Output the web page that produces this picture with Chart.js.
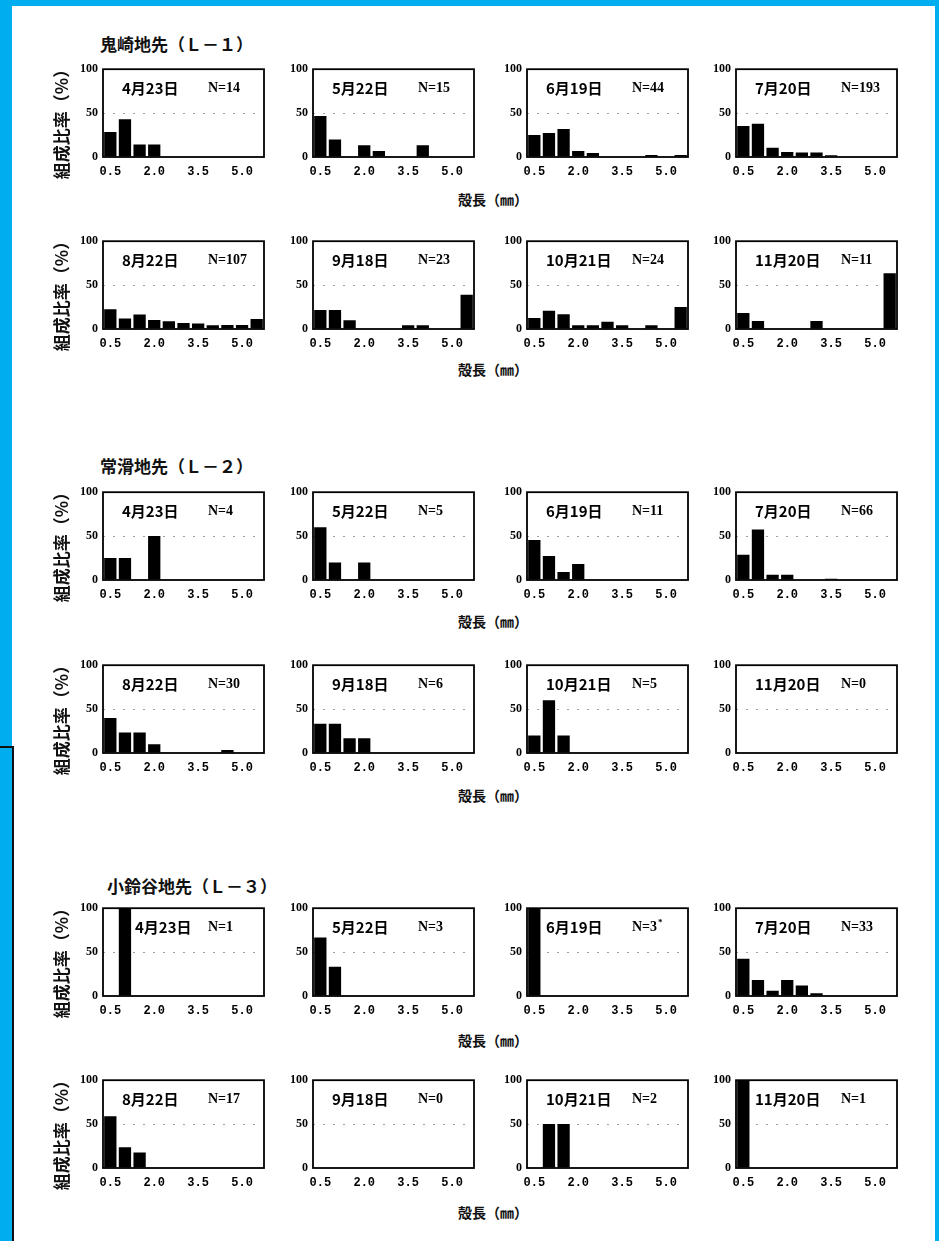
<!DOCTYPE html>
<html>
<head>
<meta charset="utf-8">
<script src="https://cdn.jsdelivr.net/npm/chart.js@4.4.0/dist/chart.umd.min.js"></script>
<style>
body { margin: 0; }
#page { position: relative; width: 939px; height: 1241px; background: #00aeef; overflow: hidden; }
#paper { position: absolute; left: 12px; top: 6px; width: 923px; height: 1235px; background: #fff; }
#edge { position: absolute; left: 0; top: 746px; width: 14px; height: 495px; border-top: 2px solid #111; border-right: 2px solid #111; box-sizing: border-box; }
.site { position: absolute; font: 700 17px 'Noto Sans CJK JP'; color: #111; white-space: nowrap; transform: translateY(-50%); }
.ylab { position: absolute; font: 700 17px 'Noto Sans CJK JP'; color: #111; white-space: nowrap; transform: translate(-50%, -50%) rotate(-90deg); }
.xlab { position: absolute; font: 700 14px 'Noto Sans CJK JP'; color: #111; white-space: nowrap; transform: translate(-50%, -50%); }
canvas { position: absolute; }
</style>
</head>
<body>
<div id="page">
  <div id="paper"></div>
  <div id="edge"></div>
</div>
<script>
// 殻長階級 (0.5mm きざみ、最後は 5.0mm 超)
const binLabels = ['0.5', '1.0', '1.5', '2.0', '2.5', '3.0', '3.5', '4.0', '4.5', '5.0', '5.5']
const tickLabels = ['0.5', '2.0', '3.5', '5.0']
const dates = ['4月23日', '5月22日', '6月19日', '7月20日', '8月22日', '9月18日', '10月21日', '11月20日']
const siteNames = ['鬼崎地先（Ｌ－１）', '常滑地先（Ｌ－２）', '小鈴谷地先（Ｌ－３）']

const nL1 = [14, 15, 44, 193, 107, 23, 24, 11]
const nL2 = [4, 5, 11, 66, 30, 6, 5, 0]
const nL3 = [1, 3, 3, 33, 17, 0, 2, 1]
const markL3 = ['', '', '*', '', '', '', '', '']

// 組成比率 (%)
const pctL1 = [
    [28.6, 42.9, 14.3, 14.3, 0, 0, 0, 0, 0, 0, 0],
    [46.7, 20.0, 0, 13.3, 6.7, 0, 0, 13.3, 0, 0, 0],
    [25.0, 27.3, 31.8, 6.8, 4.5, 0, 0, 0, 2.3, 0, 2.3],
    [35.2, 37.8, 10.4, 5.7, 5.2, 5.2, 2.0, 0, 0, 0, 0],
    [22.6, 12.0, 16.6, 10.2, 8.7, 6.8, 6.4, 4.2, 4.5, 4.5, 11.3],
    [21.7, 21.7, 10.0, 0, 0, 0, 4.3, 4.3, 0, 0, 39.1],
    [12.5, 20.8, 16.7, 4.2, 4.2, 8.3, 4.2, 0, 4.2, 0, 25.0],
    [18.2, 9.1, 0, 0, 0, 9.1, 0, 0, 0, 0, 63.6]
]
const pctL2 = [
    [25.0, 25.0, 0, 50.0, 0, 0, 0, 0, 0, 0, 0],
    [60.0, 20.0, 0, 20.0, 0, 0, 0, 0, 0, 0, 0],
    [45.5, 27.3, 9.1, 18.2, 0, 0, 0, 0, 0, 0, 0],
    [28.8, 57.6, 6.1, 6.1, 0, 0, 1.5, 0, 0, 0, 0],
    [40.0, 23.3, 23.3, 10.0, 0, 0, 0, 0, 3.3, 0, 0],
    [33.3, 33.3, 16.7, 16.7, 0, 0, 0, 0, 0, 0, 0],
    [20.0, 60.0, 20.0, 0, 0, 0, 0, 0, 0, 0, 0],
    [0, 0, 0, 0, 0, 0, 0, 0, 0, 0, 0]
]
const pctL3 = [
    [0, 100, 0, 0, 0, 0, 0, 0, 0, 0, 0],
    [66.7, 33.3, 0, 0, 0, 0, 0, 0, 0, 0, 0],
    [100, 0, 0, 0, 0, 0, 0, 0, 0, 0, 0],
    [42.4, 18.2, 6.1, 18.2, 12.1, 3.0, 0, 0, 0, 0, 0],
    [58.8, 23.5, 17.6, 0, 0, 0, 0, 0, 0, 0, 0],
    [0, 0, 0, 0, 0, 0, 0, 0, 0, 0, 0],
    [0, 50.0, 50.0, 0, 0, 0, 0, 0, 0, 0, 0],
    [100, 0, 0, 0, 0, 0, 0, 0, 0, 0, 0]
]

const sitePct = [pctL1, pctL2, pctL3]
const siteN = [nL1, nL2, nL3]

// レイアウト
const colLeft = [103, 313, 527, 736]
const rowTop = [68, 240, 491, 664, 907, 1079]
const xlabY = [199, 369, 621, 795, 1040, 1212]
const siteY = [43, 465, 885]
const siteX = [100, 100, 107]
const BOX_W = 161, BOX_H = 89
// PAD_T: Chart.js が「100」ラベルのために取る上の余白 (実測)
const PAD_L = 34, PAD_T = 11, PAD_R = 6, PAD_B = 24

const page = document.getElementById('page')

function addText(cls, text, x, y) {
    const d = document.createElement('div')
    d.className = cls
    d.textContent = text
    d.style.left = x + 'px'
    d.style.top = y + 'px'
    page.appendChild(d)
}

const panelText = {
    id: 'panelText',
    afterDraw(chart, args, opts) {
        const ctx = chart.ctx
        const a = chart.chartArea
        ctx.save()
        ctx.strokeStyle = '#000'
        ctx.lineWidth = 1.8
        ctx.strokeRect(a.left, a.top, a.right - a.left, a.bottom - a.top)
        ctx.fillStyle = '#000'
        ctx.textBaseline = 'middle'
        ctx.font = "700 15px 'Noto Sans CJK JP'"
        ctx.fillText(opts.date, a.left + opts.dx, a.top + 19)
        ctx.font = "700 14px 'Liberation Serif'"
        const nText = 'N=' + opts.n
        ctx.fillText(nText, a.left + 105, a.top + 19)
        if (opts.mark) {
            const w = ctx.measureText(nText).width
            ctx.font = "700 9px 'Liberation Serif'"
            ctx.fillText(opts.mark, a.left + 106 + w, a.top + 14)
        }
        ctx.restore()
    }
}

function makePanel(site, k) {
    const row = site * 2 + Math.floor(k / 4)
    const col = k % 4
    const cv = document.createElement('canvas')
    cv.width = PAD_L + BOX_W + PAD_R
    cv.height = PAD_T + BOX_H + PAD_B
    cv.style.left = (colLeft[col] - PAD_L) + 'px'
    cv.style.top = (rowTop[row] - PAD_T) + 'px'
    page.appendChild(cv)

    // L-3 4月23日 は棒を避けて日付が右へずれている
    const dx = (site === 2 && k === 0) ? 32 : 19

    new Chart(cv.getContext('2d'), {
        type: 'bar',
        data: {
            labels: binLabels,
            datasets: [{
                data: sitePct[site][k],
                backgroundColor: '#000',
                borderWidth: 0,
                barPercentage: 0.84,
                categoryPercentage: 1.0
            }]
        },
        options: {
            responsive: false,
            animation: false,
            layout: { padding: { top: 0, right: PAD_R, left: 0, bottom: 0 } },
            plugins: {
                legend: { display: false },
                tooltip: { enabled: false },
                panelText: { date: dates[k], n: siteN[site][k], mark: site === 2 ? markL3[k] : '', dx: dx }
            },
            scales: {
                x: {
                    afterFit(s) { s.height = PAD_B },
                    grid: { display: false },
                    border: { display: false },
                    ticks: {
                        autoSkip: false,
                        maxRotation: 0,
                        padding: 0,
                        color: '#000',
                        font: { family: 'Liberation Mono', weight: 'bold', size: 12 },
                        callback: function (v, i) {
                            const l = binLabels[i]
                            return tickLabels.includes(l) ? l : ''
                        }
                    }
                },
                y: {
                    min: 0,
                    max: 100,
                    afterFit(s) { s.width = PAD_L },
                    grid: {
                        drawTicks: false,
                        lineWidth: 1,
                        color: c => c.tick && c.tick.value === 50 ? '#a0a0a0' : 'rgba(0,0,0,0)'
                    },
                    border: { display: false, dash: [2, 8] },
                    ticks: {
                        stepSize: 50,
                        padding: 5,
                        color: '#000',
                        font: { family: 'Liberation Serif', weight: 'bold', size: 12 }
                    }
                }
            }
        },
        plugins: [panelText]
    })
}

for (let s = 0; s < 3; s++) {
    addText('site', siteNames[s], siteX[s], siteY[s])
    for (let k = 0; k < 8; k++) makePanel(s, k)
    for (let r = 0; r < 2; r++) {
        const row = s * 2 + r
        addText('ylab', '組成比率（%）', 60, rowTop[row] + 52)
        addText('xlab', '殻長（㎜）', 493, xlabY[row])
    }
}
</script>
</body>
</html>
